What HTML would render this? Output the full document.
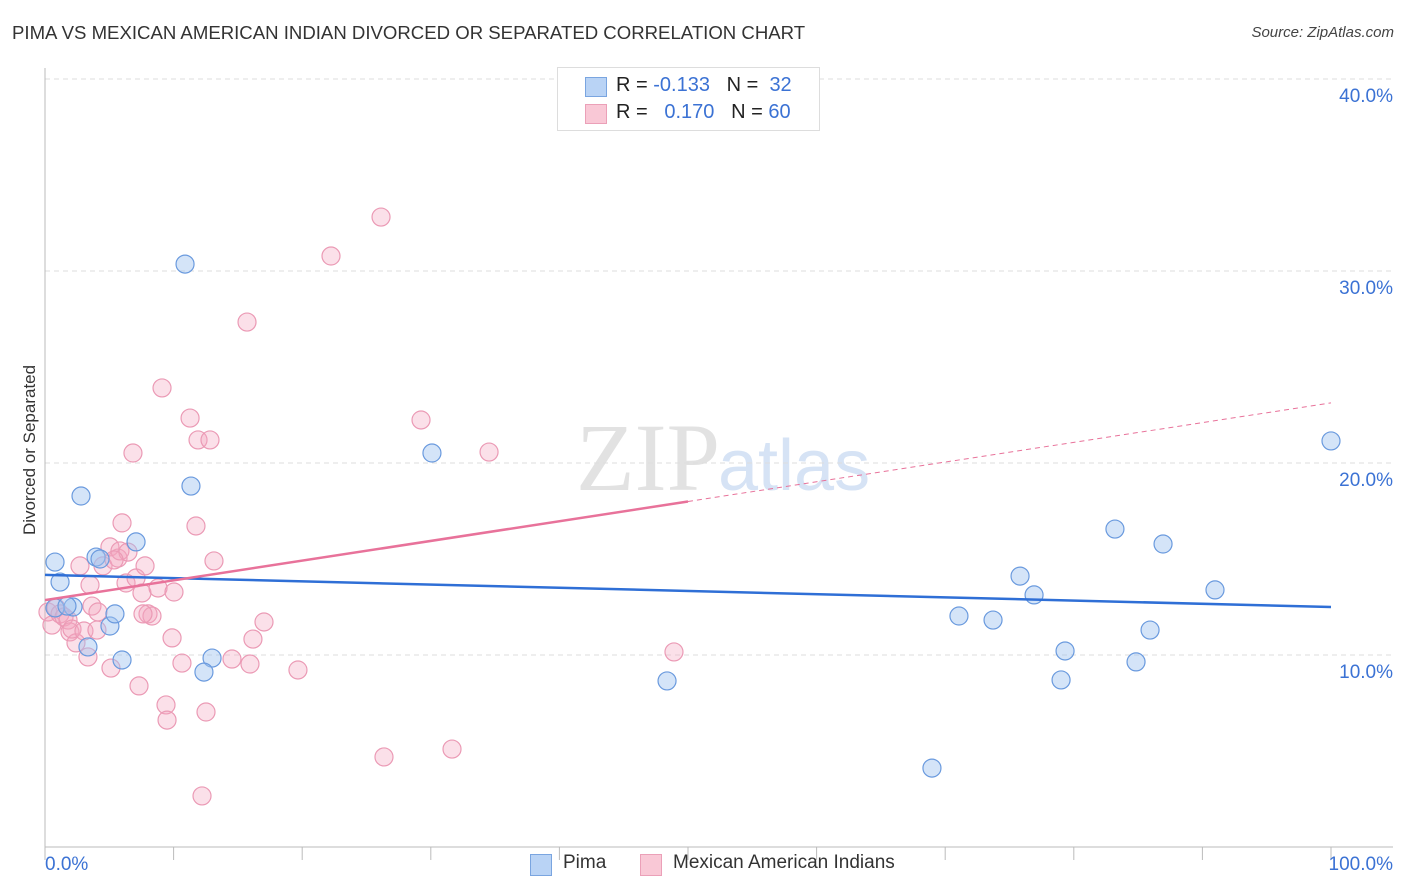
<!DOCTYPE html>
<html><head><meta charset="utf-8"><style>
body{margin:0;background:#fff;font-family:"Liberation Sans",sans-serif;}
#wrap{position:relative;width:1406px;height:892px;overflow:hidden;}
.t{position:absolute;white-space:nowrap;}
</style></head><body>
<div id="wrap">
<div class="t" style="left:12px;top:22px;font-size:18.6px;color:#333;">PIMA VS MEXICAN AMERICAN INDIAN DIVORCED OR SEPARATED CORRELATION CHART</div>
<div class="t" style="right:12px;top:24px;font-size:15px;color:#444;font-style:italic;">Source: ZipAtlas.com</div>
<div class="t" style="left:-50px;top:445px;font-size:17px;color:#333;transform:rotate(-90deg);transform-origin:center;width:160px;text-align:center;">Divorced or Separated</div>
<svg id="plot" width="1406" height="892" style="position:absolute;left:0;top:0">
<text x="720" y="490" font-size="96" font-family="Liberation Serif" fill="#e2e2e2" text-anchor="end">ZIP</text>
<text x="718" y="490" font-size="72" font-family="Liberation Sans" fill="#d6e3f5">atlas</text>
</svg>
<div style="position:absolute;left:557px;top:67px;width:261px;height:62px;border:1px solid #ddd;background:#fff;font-size:20px;">
<div style="position:absolute;left:27px;top:9px;width:20px;height:18px;background:#b9d3f5;border:1px solid #7aa5e0;"></div>
<div class="t" style="left:58px;top:6px;color:#222;">R = <span style="color:#3b72d4">-0.133</span>&nbsp;&nbsp;&nbsp;N = &nbsp;<span style="color:#3b72d4">32</span></div>
<div style="position:absolute;left:27px;top:36px;width:20px;height:18px;background:#f9c8d6;border:1px solid #eba0b8;"></div>
<div class="t" style="left:58px;top:33px;color:#222;">R = &nbsp;&nbsp;<span style="color:#3b72d4">0.170</span>&nbsp;&nbsp;&nbsp;N = <span style="color:#3b72d4">60</span></div>
</div>
<div style="position:absolute;left:530px;top:852px;font-size:19px;color:#333;">
<div style="position:absolute;left:0;top:2px;width:20px;height:20px;background:#b9d3f5;border:1px solid #7aa5e0;"></div>
<div class="t" style="left:33px;top:0;">Pima</div>
<div style="position:absolute;left:110px;top:2px;width:20px;height:20px;background:#f9c8d6;border:1px solid #eba0b8;"></div>
<div class="t" style="left:143px;top:0;">Mexican American Indians</div>
</div>
</div>
<script>
const xTicks=[0,10,20,30,40,50,60,70,80,90,100];
const yTicks=[10,20,30,40];
const yTickLabels=["10.0%","20.0%","30.0%","40.0%"];
const xEndLabels=["0.0%","100.0%"];
const pimaX=[0.78,1.17,2.80,2.18,3.97,4.28,5.05,5.44,3.34,5.99,7.08,10.89,11.35,12.99,12.36,30.09,48.37,68.97,71.07,73.72,75.82,76.91,79.01,79.32,83.20,84.84,85.93,86.94,90.98,100,0.78,1.71];
const pimaY=[14.84,13.80,18.28,12.50,15.10,15.0,11.51,12.14,10.42,9.74,15.89,30.36,18.80,9.84,9.11,20.52,8.65,4.11,12.03,11.82,14.11,13.13,8.70,10.21,16.56,9.64,11.30,15.78,13.39,21.15,12.45,12.55];
const mexX=[0.23,0.54,0.86,1.17,1.48,1.79,1.94,2.41,2.10,2.72,3.03,3.34,3.50,3.65,4.12,4.04,4.51,5.05,5.13,5.68,5.83,5.99,6.30,6.45,6.84,7.08,7.31,7.54,7.78,8.01,8.32,8.79,9.10,9.41,9.49,9.88,10.03,10.65,11.28,11.74,11.90,12.21,12.52,12.83,13.14,14.54,15.71,15.94,16.17,17.03,19.67,22.24,26.13,26.36,29.24,31.65,34.53,48.91,7.62,5.37];
const mexY=[12.24,11.56,12.45,12.14,11.98,11.82,11.20,10.63,11.35,14.64,11.25,9.90,13.65,12.55,12.24,11.30,14.64,15.63,9.32,15.05,15.42,16.88,13.75,15.36,20.52,14.01,8.39,13.23,14.64,12.14,12.03,13.49,23.91,7.40,6.61,10.89,13.28,9.58,22.34,16.72,21.20,2.66,7.03,21.20,14.90,9.79,27.34,9.53,10.83,11.72,9.22,30.78,32.81,4.69,22.24,5.10,20.57,10.16,12.14,14.95];
const pimaTrend=[14.17,12.50];
const mexTrend=[12.86,23.13];
const mexSolidEnd=50;

const X0=45,X1=1331,Y0=847,PY=19.2;
const sx=v=>X0+v*(X1-X0)/100;
const sy=v=>Y0-v*PY;
const svg=document.getElementById('plot');
const NS='http://www.w3.org/2000/svg';
function mk(tag,attrs){const e=document.createElementNS(NS,tag);for(const k in attrs)e.setAttribute(k,attrs[k]);svg.appendChild(e);return e;}
yTicks.forEach((t,i)=>{
 const g=mk('line',{x1:X0,x2:1393,y1:sy(t),y2:sy(t),stroke:'#ddd','stroke-dasharray':'5,4'});
 
 
 const l=mk('text',{x:1393,y:sy(t)+23,'text-anchor':'end','font-size':19,fill:'#3b72d4'});
 l.textContent=yTickLabels[i];
 
 
});
const topGrid=mk('line',{x1:X0,x2:1393,y1:79,y2:79,stroke:'#ddd','stroke-dasharray':'5,4'});


const ya=mk('line',{x1:X0,x2:X0,y1:68,y2:Y0,stroke:'#bbb'});


const xa=mk('line',{x1:X0,x2:1393,y1:Y0,y2:Y0,stroke:'#bbb'});


xTicks.forEach(t=>{
 const k=mk('line',{x1:sx(t),x2:sx(t),y1:Y0,y2:Y0+13,stroke:'#bbb'});
 
 
});
[[0,'start',45],[100,'end',1393]].forEach((a,i)=>{
 const l=mk('text',{x:a[2],y:870,'text-anchor':a[1],'font-size':19,fill:'#3b72d4'});
 l.textContent=xEndLabels[i];
 
 
});
mexX.forEach((x,i)=>{
 const c=mk('circle',{cx:sx(x),cy:sy(mexY[i]),r:9,fill:'rgba(244,165,192,0.35)',stroke:'#eb9ab5','stroke-width':1.2});
 
 
});
pimaX.forEach((x,i)=>{
 const c=mk('circle',{cx:sx(x),cy:sy(pimaY[i]),r:9,fill:'rgba(160,196,240,0.45)',stroke:'#6a9ade','stroke-width':1.2});
 
 
});
const pl=mk('line',{x1:sx(0),y1:sy(pimaTrend[0]),x2:sx(100),y2:sy(pimaTrend[1]),stroke:'#2f6fd6','stroke-width':2.5});


const mAt=v=>mexTrend[0]+(mexTrend[1]-mexTrend[0])*v/100;
const ms=mk('line',{x1:sx(0),y1:sy(mAt(0)),x2:sx(mexSolidEnd),y2:sy(mAt(mexSolidEnd)),stroke:'#e8729a','stroke-width':2.5});


const md=mk('line',{x1:sx(mexSolidEnd),y1:sy(mAt(mexSolidEnd)),x2:sx(100),y2:sy(mAt(100)),stroke:'#e8729a','stroke-width':1,'stroke-dasharray':'5,4'});


</script>
</body></html>
